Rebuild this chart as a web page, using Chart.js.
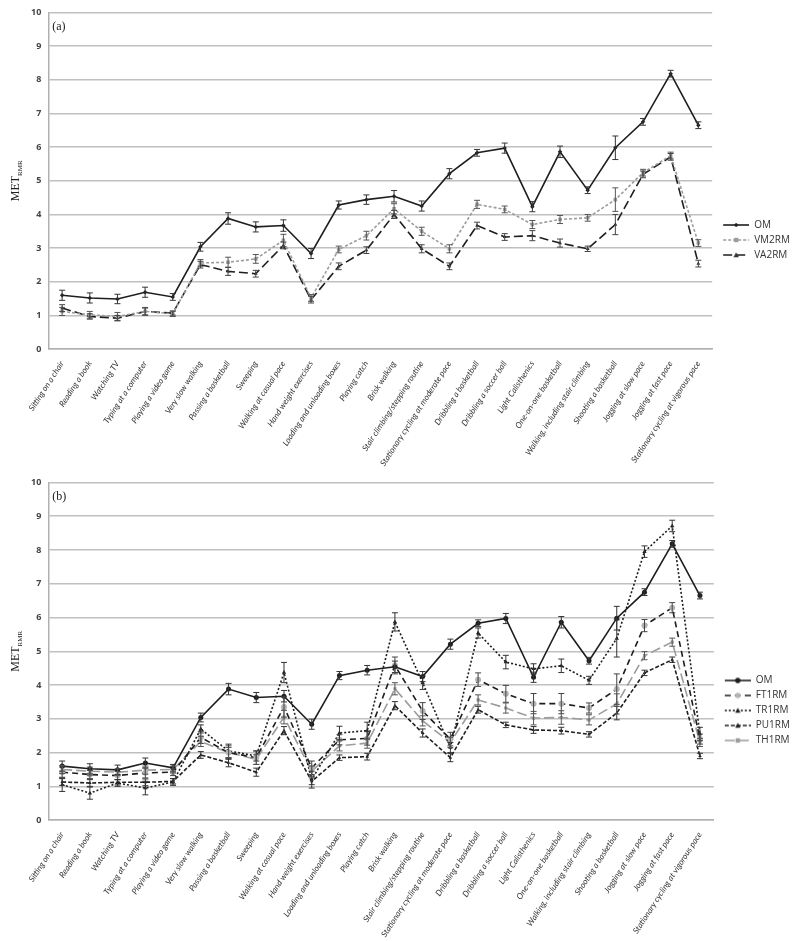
<!DOCTYPE html>
<html>
<head>
<meta charset="utf-8">
<script src="https://cdn.jsdelivr.net/npm/chart.js@4"></script>
<style>
  body { margin: 0; background: #fff; }
  canvas { display: block; }
</style>
</head>
<body>
<canvas id="chartA" width="800" height="470"></canvas>
<canvas id="chartB" width="800" height="471"></canvas>
<script>
const activities = [
  'Sitting on a chair', 'Reading a book', 'Watching TV', 'Typing at a computer',
  'Playing a video game', 'Very slow walking', 'Passing a basketball', 'Sweeping',
  'Walking at casual pace', 'Hand weight exercises', 'Loading and unloading boxes',
  'Playing catch', 'Brisk walking', 'Stair climbing/stepping routine',
  'Stationary cycling at moderate pace', 'Dribbling a basketball', 'Dribbling a soccer ball',
  'Light Calisthenics', 'One-on-one basketball', 'Walking, including stair climbing',
  'Shooting a basketball', 'Jogging at slow pace', 'Jogging at fast pace',
  'Stationary cycling at vigorous pace'
];

// panel (a)
const omValues    = [1.60, 1.52, 1.49, 1.69, 1.55, 3.04, 3.88, 3.63, 3.67, 2.84, 4.28, 4.44, 4.54, 4.25, 5.21, 5.83, 5.97, 4.23, 5.86, 4.72, 5.98, 6.75, 8.18, 6.65];
const omErrors    = [0.15, 0.15, 0.14, 0.15, 0.10, 0.13, 0.17, 0.15, 0.17, 0.15, 0.12, 0.14, 0.17, 0.15, 0.15, 0.10, 0.15, 0.15, 0.17, 0.10, 0.35, 0.10, 0.10, 0.10];
const vm2rmValues = [1.12, 1.02, 0.97, 1.12, 1.05, 2.56, 2.58, 2.68, 3.23, 1.52, 2.96, 3.37, 4.17, 3.50, 2.98, 4.30, 4.15, 3.70, 3.85, 3.90, 4.44, 5.24, 5.75, 3.15];
const vm2rmErrors = [0.12, 0.10, 0.12, 0.12, 0.08, 0.10, 0.15, 0.13, 0.18, 0.10, 0.10, 0.13, 0.15, 0.12, 0.12, 0.12, 0.10, 0.12, 0.12, 0.10, 0.35, 0.10, 0.10, 0.10];
const va2rmValues = [1.22, 0.97, 0.92, 1.12, 1.07, 2.51, 2.31, 2.24, 3.08, 1.47, 2.46, 2.94, 4.00, 2.98, 2.46, 3.67, 3.33, 3.37, 3.15, 2.98, 3.70, 5.19, 5.71, 2.54];
const va2rmErrors = [0.10, 0.08, 0.08, 0.10, 0.06, 0.10, 0.12, 0.10, 0.10, 0.10, 0.10, 0.10, 0.12, 0.12, 0.10, 0.10, 0.10, 0.15, 0.12, 0.08, 0.30, 0.10, 0.10, 0.10];

// panel (b)
const ft1rmValues = [1.42, 1.35, 1.32, 1.40, 1.42, 2.45, 2.00, 1.85, 3.35, 1.55, 2.38, 2.42, 4.58, 3.23, 2.40, 4.16, 3.74, 3.45, 3.45, 3.32, 3.88, 5.76, 6.29, 2.40];
const ft1rmErrors = [0.15, 0.12, 0.12, 0.15, 0.10, 0.18, 0.20, 0.20, 0.30, 0.20, 0.15, 0.20, 0.25, 0.25, 0.20, 0.20, 0.25, 0.30, 0.30, 0.15, 0.45, 0.18, 0.15, 0.15];
const tr1rmValues = [1.05, 0.80, 1.10, 0.95, 1.13, 2.70, 2.05, 1.90, 4.37, 1.20, 2.58, 2.65, 5.87, 4.07, 2.15, 5.54, 4.68, 4.48, 4.57, 4.14, 5.38, 7.95, 8.71, 2.55];
const tr1rmErrors = [0.20, 0.18, 0.10, 0.20, 0.10, 0.12, 0.20, 0.15, 0.30, 0.25, 0.20, 0.25, 0.27, 0.20, 0.15, 0.15, 0.20, 0.15, 0.20, 0.12, 0.55, 0.17, 0.17, 0.20];
const pu1rmValues = [1.13, 1.10, 1.12, 1.12, 1.15, 1.93, 1.70, 1.42, 2.65, 1.15, 1.85, 1.88, 3.39, 2.58, 1.85, 3.27, 2.82, 2.67, 2.65, 2.54, 3.17, 4.36, 4.75, 1.90];
const pu1rmErrors = [0.10, 0.10, 0.08, 0.10, 0.08, 0.10, 0.12, 0.12, 0.12, 0.10, 0.08, 0.10, 0.12, 0.12, 0.12, 0.10, 0.08, 0.10, 0.10, 0.08, 0.20, 0.08, 0.08, 0.08];
const th1rmValues = [1.50, 1.45, 1.42, 1.48, 1.50, 2.33, 2.00, 1.80, 3.05, 1.45, 2.20, 2.28, 3.89, 2.94, 2.30, 3.56, 3.32, 3.02, 3.04, 2.97, 3.44, 4.87, 5.27, 2.30];
const th1rmErrors = [0.12, 0.12, 0.10, 0.12, 0.10, 0.15, 0.15, 0.15, 0.20, 0.15, 0.15, 0.15, 0.18, 0.15, 0.15, 0.15, 0.15, 0.20, 0.20, 0.15, 0.30, 0.12, 0.12, 0.12];

const yMin = 0;
const yMax = 10;

const BLACK = '#1e1e1e';
const GRAY = '#9c9c9c';
const LIGHT = '#b4b4b4';

function legendIcon(ds) {
  const c = document.createElement('canvas');
  c.width = 32;
  c.height = 8;
  const g = c.getContext('2d');
  g.strokeStyle = ds.borderColor;
  g.lineWidth = 1.6;
  g.setLineDash(ds.borderDash || []);
  g.beginPath();
  g.moveTo(6, 4);
  g.lineTo(32, 4);
  g.stroke();
  g.setLineDash([]);
  g.fillStyle = ds.pointBackgroundColor;
  const r = 2.2;
  const cx = 19;
  g.beginPath();
  if (ds.pointStyle === 'circle') g.arc(cx, 4, r + 0.5, 0, Math.PI * 2);
  else if (ds.pointStyle === 'triangle') { g.moveTo(cx, 4 - r - 0.5); g.lineTo(cx + r + 0.5, 4 + r); g.lineTo(cx - r - 0.5, 4 + r); g.closePath(); }
  else if (ds.pointStyle === 'rectRot') { g.moveTo(cx, 4 - r); g.lineTo(cx + r, 4); g.lineTo(cx, 4 + r); g.lineTo(cx - r, 4); g.closePath(); }
  else g.rect(cx - r, 4 - r, r * 2, r * 2);
  g.fill();
  return c;
}

const errorBars = {
  id: 'errorBars',
  afterDatasetsDraw(chart) {
    const ctx = chart.ctx;
    const y = chart.scales.y;
    chart.data.datasets.forEach((ds, i) => {
      if (!ds.errors) return;
      const meta = chart.getDatasetMeta(i);
      ctx.save();
      ctx.strokeStyle = ds.errorColor || '#444';
      ctx.lineWidth = 1;
      meta.data.forEach((pt, j) => {
        const top = y.getPixelForValue(ds.data[j] + ds.errors[j]);
        const bot = y.getPixelForValue(ds.data[j] - ds.errors[j]);
        ctx.beginPath();
        ctx.moveTo(pt.x, top); ctx.lineTo(pt.x, bot);
        ctx.moveTo(pt.x - 3, top); ctx.lineTo(pt.x + 3, top);
        ctx.moveTo(pt.x - 3, bot); ctx.lineTo(pt.x + 3, bot);
        ctx.stroke();
      });
      ctx.restore();
    });
  }
};

const labels = {
  id: 'labels',
  afterDraw(chart, args, opts) {
    const ctx = chart.ctx;
    const area = chart.chartArea;
    ctx.save();
    ctx.fillStyle = '#222';
    ctx.font = '12px "Liberation Serif"';
    ctx.textBaseline = 'alphabetic';
    ctx.fillText(opts.panel, area.left + 4, area.top + 18);
    // y title MET with subscript RMR
    const cy = (area.top + area.bottom) / 2;
    ctx.translate(19, cy);
    ctx.rotate(-Math.PI / 2);
    ctx.font = '12px "Liberation Serif"';
    const w1 = ctx.measureText('MET').width;
    ctx.font = '7px "Liberation Serif"';
    const w2 = ctx.measureText('RMR').width;
    const x0 = -(w1 + w2) / 2;
    ctx.font = '12px "Liberation Serif"';
    ctx.fillText('MET', x0, 0);
    ctx.font = '7px "Liberation Serif"';
    ctx.fillText('RMR', x0 + w1, 3);
    ctx.restore();
  }
};

function line(label, data, errors, color, dash, style, markerColor, radius, errorColor) {
  return {
    label: label,
    data: data,
    errors: errors,
    errorColor: errorColor,
    borderColor: color,
    borderWidth: 1.6,
    borderDash: dash,
    pointStyle: style,
    pointRadius: radius,
    pointBackgroundColor: markerColor,
    pointBorderColor: markerColor,
    pointBorderWidth: 0,
    tension: 0,
    fill: false
  };
}

function makeChart(id, panel, datasets) {
  const icons = datasets.map(legendIcon);
  return new Chart(document.getElementById(id), {
    type: 'line',
    data: { labels: activities, datasets: datasets },
    plugins: [errorBars, labels],
    options: {
      responsive: false,
      animation: false,
      layout: { padding: { left: 24, top: 10, right: 0, bottom: 0 } },
      plugins: {
        labels: { panel: panel },
        tooltip: { enabled: false },
        legend: {
          position: 'right',
          labels: {
            usePointStyle: true,
            pointStyleWidth: 32,
            padding: 5,
            color: '#333',
            font: { family: 'Open Sans', size: 10 },
            generateLabels: (chart) => chart.data.datasets.map((ds, i) => ({
              text: ds.label,
              pointStyle: icons[i],
              datasetIndex: i,
              hidden: false,
              lineWidth: 0,
              fontColor: '#333'
            }))
          }
        }
      },
      scales: {
        x: {
          offset: true,
          grid: { display: false },
          border: { color: '#b0b0b0', width: 1.5 },
          ticks: {
            autoSkip: false,
            maxRotation: 57,
            minRotation: 57,
            padding: 2,
            color: '#333',
            font: { family: 'Lato', style: 'italic', size: 8.3 }
          }
        },
        y: {
          min: yMin,
          max: yMax,
          grid: { color: '#c0c0c0', lineWidth: 1.5, drawTicks: false },
          border: { color: '#b0b0b0', width: 1.5 },
          ticks: {
            stepSize: 1,
            padding: 7,
            color: '#444',
            font: { family: 'Open Sans', size: 9, weight: 'bold' }
          }
        }
      }
    }
  });
}

makeChart('chartA', '(a)', [
  line('OM', omValues, omErrors, BLACK, [], 'rectRot', BLACK, 2.2, '#333'),
  line('VM2RM', vm2rmValues, vm2rmErrors, GRAY, [3, 2], 'rect', GRAY, 2.5, '#555'),
  line('VA2RM', va2rmValues, va2rmErrors, BLACK, [9, 4], 'triangle', '#333', 2.2, '#444')
]);

makeChart('chartB', '(b)', [
  line('OM', omValues, omErrors, BLACK, [], 'circle', BLACK, 2.5, '#333'),
  line('FT1RM', ft1rmValues, ft1rmErrors, BLACK, [6, 4], 'circle', LIGHT, 3, '#444'),
  line('TR1RM', tr1rmValues, tr1rmErrors, BLACK, [2, 2], 'triangle', BLACK, 2.5, '#333'),
  line('PU1RM', pu1rmValues, pu1rmErrors, BLACK, [4, 2], 'triangle', BLACK, 2, '#333'),
  line('TH1RM', th1rmValues, th1rmErrors, GRAY, [10, 4], 'rect', GRAY, 2.2, '#555')
]);
</script>
</body>
</html>
